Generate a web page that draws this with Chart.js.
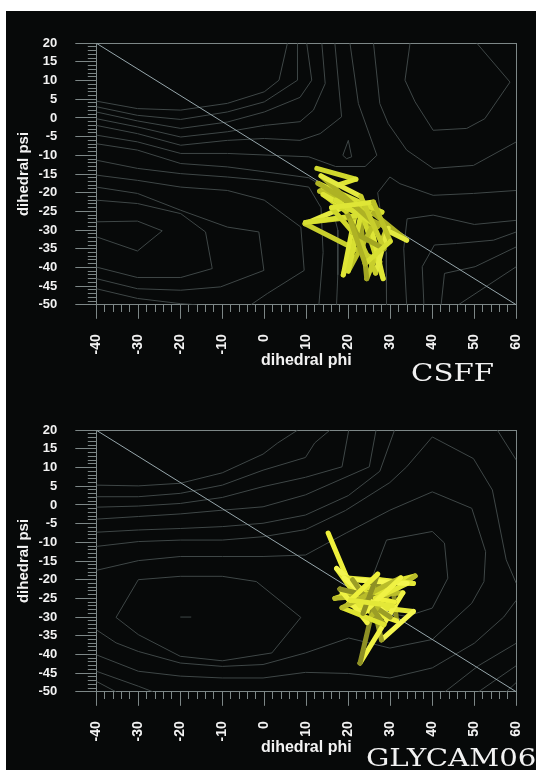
<!DOCTYPE html>
<html>
<head>
<meta charset="utf-8">
<script src="https://cdn.jsdelivr.net/npm/chart.js@4.4.1/dist/chart.umd.min.js"></script>
<style>
  html, body { margin: 0; padding: 0; background: #ffffff; }
  body { width: 536px; height: 770px; position: relative; overflow: hidden; }
  #sheet { position: absolute; left: 6px; top: 11px; right: 0; bottom: 0; background: #070909; }
  .panel { position: absolute; left: 0; width: 536px; height: 383px; }
  #panelTop { top: 0; }
  #panelBottom { top: 387px; }
  .tag { position: absolute; font-family: "DejaVu Serif", "Liberation Serif", serif; font-size: 25px;
         line-height: 25px; color: #f2f2f2; letter-spacing: 0; white-space: nowrap;
         transform: scaleX(1.17); transform-origin: left top; }
</style>
</head>
<body>
<div id="sheet"></div>
<div class="panel" id="panelTop"><canvas id="chartCsff" width="536" height="383"></canvas></div>
<div class="panel" id="panelBottom"><canvas id="chartGlycam" width="536" height="383"></canvas></div>
<div class="tag" style="left:411px; top:360px;">CSFF</div>
<div class="tag" style="left:366px; top:745px;">GLYCAM06</div>
<script>
// ---- axis ranges and labelled tick values ----
const PHI_RANGE = [-40, 60];
const PSI_RANGE = [-50, 20];
const PHI_LABELS = [-40, -30, -20, -10, 0, 10, 20, 30, 40, 50, 60];
const PSI_LABELS = [20, 15, 10, 5, 0, -5, -10, -15, -20, -25, -30, -35, -40, -45, -50];

// reference diagonal
const DIAG_PHI = [-40, 60];
const DIAG_PSI = [20, -50];

// ---- CSFF trajectory (phi, psi in degrees) ----
const CSFF_PHI = [12.5, 21.8, 13.2, 28.0, 12.8, 20.8, 9.7, 27.5, 24.0, 18.8, 21.5, 9.8, 26.0, 33.9,
                  29.0, 24.4, 22.5, 28.3, 25.5, 20.0, 23.0, 29.5, 26.5, 22.0, 19.5, 14.0, 24.5, 17.0,
                  27.0, 13.5, 23.0, 28.5, 21.0, 16.0, 26.0, 30.0, 24.0, 20.5];
const CSFF_PSI = [-13.5, -16.4, -19.6, -25.2, -17.5, -23.0, -28.3, -38.5, -24.5, -42.0, -26.5, -28.0,
                  -25.5, -32.7, -30.0, -43.0, -23.0, -43.0, -29.5, -41.0, -26.0, -29.5, -41.5, -31.0,
                  -25.0, -20.5, -27.0, -22.0, -29.0, -15.5, -21.0, -35.0, -30.5, -24.0, -22.5, -33.0,
                  -39.0, -27.5];

// ---- GLYCAM06 trajectory ----
const GLYCAM_PHI = [15.2, 21.0, 17.2, 28.0, 18.5, 35.9, 24.0, 30.5, 31.5, 20.0, 35.5, 27.9, 25.0,
                    16.8, 33.0, 22.8, 27.5, 35.5, 19.0, 30.0, 22.0, 29.5, 24.5, 18.0, 31.0, 26.5,
                    34.0, 21.0, 28.5, 18.5, 32.5, 23.5, 27.0, 20.5, 30.5];
const GLYCAM_PSI = [-7.5, -23.0, -17.0, -27.0, -24.0, -19.0, -28.5, -20.5, -31.0, -26.5, -28.5, -36.1,
                    -22.0, -25.0, -23.5, -42.3, -20.0, -21.0, -19.5, -30.0, -24.0, -23.0, -31.5, -22.5,
                    -26.0, -25.0, -21.0, -20.0, -32.0, -27.5, -19.5, -29.0, -18.5, -25.5, -27.0];

// ---- free-energy contour polylines, CSFF ([phi, psi] vertices) ----
const CSFF_CONTOURS = [
  [[-40,4.5],[-30.2,2.5],[-19.9,2.1],[-8.8,3.9],[0,7.0],[3.5,10.1],[5.5,20]],
  [[-40,3.0],[-30.2,0.7],[-19.9,-0.4],[-8.8,1.6],[0,4.3],[7.9,10.1],[7.9,20]],
  [[-40,1.6],[-30.2,-0.8],[-19.9,-2.8],[-8.8,-1.1],[0,1.6],[8.5,5.5],[11.3,10.1],[10.1,20]],
  [[-40,-0.2],[-30.2,-2.4],[-19.9,-5.1],[-8.8,-3.7],[0,-2.0],[8.5,-1.0],[11.7,2.1],[14.5,9.2],[13.7,20]],
  [[-40,-2.0],[-30.2,-4.2],[-19.9,-7.3],[-8.8,-6.0],[0,-5.5],[8.5,-6.0],[13.3,-4.2],[18.4,0.3],[16.8,20]],
  [[-40,-4.6],[-30.2,-6.4],[-19.9,-9.5],[-8.8,-9.5],[10.6,-10.4],[17,-13],[24,-13],[26.8,-10.0],[22.4,3.85],[20.4,20]],
  [[20.0,-6.0],[20.8,-10.4],[19.6,-10.9],[18.7,-10.0],[20.0,-6.0]],
  [[26,20],[27.5,3.85],[29.5,-1.5],[33.9,-8.6],[40.2,-13.5],[49.8,-12.7],[60,-6.4]],
  [[34.7,20],[33.5,10.1],[35.9,4.3],[40.2,-3.3],[48.2,-2.8],[52.5,-0.2],[58.5,9.6],[50.6,20]],
  [[-40,-6.9],[-30.2,-8.6],[-19.9,-12.2],[-8.8,-13.1],[0,-14.4],[10.6,-16.0],[15,-19],[17.5,-30],[17.5,-42],[17.2,-50]],
  [[-40,-11.3],[-30.2,-13.5],[-19.9,-14.9],[-8.8,-15.8],[0,-16.7],[10.6,-18.5],[13.5,-24],[14,-36],[13,-50]],
  [[-40,-15.3],[-30.2,-16.7],[-19.9,-18.5],[-8.8,-19.4],[0,-22.0],[8.7,-29.2],[9.5,-40.8],[0.7,-47.0],[-3.2,-50]],
  [[-40,-18.5],[-30.2,-20.2],[-19.9,-24.7],[-8.8,-29.2],[-1.3,-30.5],[-0.1,-40.8],[-10.4,-45.2],[-19.9,-46.1],[-30.2,-45.7],[-40,-43.0]],
  [[-40,-22.0],[-30.2,-22.9],[-19.9,-25.6],[-14,-30.5],[-12.4,-40.3],[-19.9,-42.7],[-30.2,-42.7],[-40,-39.9]],
  [[-40,-27.8],[-30.2,-27.6],[-24.3,-30.2],[-30.2,-35.6],[-40,-31.8]],
  [[-40,-45.7],[-30.2,-48.3],[-19.9,-49.7],[-16,-50]],
  [[60,-19.4],[49.8,-20.2],[40.2,-20.7],[32.3,-17.6],[29.9,-15.8],[27,-20],[29,-36],[29.1,-50]],
  [[60,-27.4],[50,-28.5],[40.2,-26],[34,-27],[33.2,-35],[33.9,-50]],
  [[60,-30.5],[54.6,-32.7],[45.8,-33.6],[40.5,-34],[37.6,-39.8],[38,-50]],
  [[60,-34.5],[50.2,-39.8],[42.9,-41.6],[42.1,-50]],
  [[60,-39.8],[46.2,-50]]
];

// ---- free-energy contour polylines, GLYCAM06 ----
const GLYCAM_CONTOURS = [
  [[-40,5.3],[-30,5.1],[-20,5.8],[-10,8.6],[-0.3,13.6],[3.2,16.6],[7.9,20]],
  [[-40,2.2],[-30,2.2],[-20,3.1],[-10,5.3],[-0.3,9.3],[9.8,12.7],[12,16.6],[15.6,20]],
  [[-40,-0.6],[-30,-0.3],[-20,0.4],[-10,2.0],[-0.3,4.9],[9.8,7.4],[18.5,10.2],[20.1,20]],
  [[-40,-3.8],[-30,-3.1],[-20,-2.4],[-10,-1.4],[-0.3,-0.5],[9.8,2.7],[25,10.2],[26.6,20]],
  [[-40,-7.3],[-30,-6.7],[-20,-6.3],[-10,-5.8],[-0.3,-4.9],[9.8,-2.7],[20,2.5],[27.5,9],[31,20]],
  [[-40,-11.1],[-30,-9.8],[-20,-9.4],[-10,-9.4],[-0.3,-8.5],[9.8,-6.6],[19.3,-1.5],[29.9,6],[33.9,10.2],
   [40,18.2],[49.8,12.4],[54.3,4],[57.6,-14.7],[60,-21]],
  [[-40,-17.5],[-30,-14.9],[-20,-13.8],[-10,-13.8],[-0.3,-13.8],[9.8,-13.4],[19.5,-7.5],[29.9,-1.4],[40,3.5],
   [49.4,-0.9],[52.7,-12.5],[52.3,-20.5],[49.4,-26.3],[40,-36.0],[29.9,-38.3],[20.1,-35.6],[9.8,-39.6],
   [-0.3,-42.7],[-10,-43.2],[-20,-42.3],[-30,-39.2],[-35.3,-36.9],[-40,-33.4]],
  [[-30,-20],[-20,-19.1],[-10,-19.1],[-1.9,-20.5],[8.7,-30.1],[1.8,-39.6],[-10,-41.7],[-20,-40.5],[-30,-34.7],[-35.3,-30.1],[-30,-20]],
  [[-20,-30],[-17.4,-30]],
  [[29.1,-9.4],[40,-7.1],[42.9,-10.2],[43.7,-19.6],[40,-27.6],[33.9,-29.8],[29.1,-28.9],[25.5,-20],[29.1,-9.4]],
  [[-40,-40.1],[-30,-44.5],[-20,-45.8],[-10,-46.3],[-0.3,-46.3],[9.8,-44.8],[20.1,-45.1],[29.9,-46.3],[40,-43.6],[50,-37],[57,-30],[60,-25.5]],
  [[-40,-44.5],[-30,-48.5],[-26.5,-50]],
  [[-40,-47.2],[-35.3,-50]],
  [[43,-50],[51,-43],[60,-37]],
  [[51,-50],[60,-43]],
  [[57.6,-50],[60,-47.5]],
  [[55.5,20],[60,12]]
];

// ---- styling ----
const INK = '#f2f2f2';
const AXIS_GREY = '#7d8787';
const CONTOUR_GREY = '#3f4747';
const DIAG_GREY = '#97a7ac';
const CSFF_SHADES = ['#d0d82c', '#dfe636', '#bcc226', '#d8e032', '#aeb224', '#e4ea40', '#c8ce2c', '#a2a622'];
const GLYCAM_SHADES = ['#eef03c', '#e4e838', '#f4f650', '#9c9e26', '#dfe432', '#b9bc2a', '#f0f244', '#8e9024'];
const SANS = '"Liberation Sans", Arial, Helvetica, sans-serif';

function toPoints(phi, psi) {
  return phi.map((p, i) => ({ x: p, y: psi[i] }));
}

function buildPanel(canvasId, contours, phi, psi, shades) {
  const datasets = [];
  datasets.push({
    data: toPoints(phi, psi),
    showLine: true,
    borderWidth: 5,
    borderColor: shades[0],
    borderCapStyle: 'round',
    borderJoinStyle: 'round',
    segment: { borderColor: c => shades[c.p0DataIndex % shades.length] },
    pointRadius: 0,
    pointHoverRadius: 0,
    order: 0
  });
  datasets.push({
    data: toPoints(DIAG_PHI, DIAG_PSI),
    showLine: true, borderWidth: 1, borderColor: DIAG_GREY,
    pointRadius: 0, pointHoverRadius: 0, order: 1
  });
  contours.forEach(line => {
    datasets.push({
      data: line.map(v => ({ x: v[0], y: v[1] })),
      showLine: true, borderWidth: 1, borderColor: CONTOUR_GREY,
      pointRadius: 0, pointHoverRadius: 0, order: 2
    });
  });

  return new Chart(document.getElementById(canvasId), {
    type: 'scatter',
    data: { datasets },
    options: {
      responsive: false,
      animation: false,
      events: [],
      layout: { padding: { left: 0, top: 43.2, right: 19.7, bottom: 0 } },
      plugins: { legend: { display: false }, tooltip: { enabled: false }, title: { display: false } },
      scales: {
        x: {
          type: 'linear', position: 'bottom', display: true,
          min: PHI_RANGE[0], max: PHI_RANGE[1],
          ticks: {
            stepSize: 2, maxTicksLimit: 1000, autoSkip: false,
            minRotation: 90, maxRotation: 90, padding: 15.5, color: INK,
            font: { family: SANS, weight: 'bold', size: 14 },
            callback: v => PHI_LABELS.includes(v) ? String(v) : ''
          },
          grid: {
            drawOnChartArea: false, tickLength: 14, tickColor: AXIS_GREY, tickWidth: 1,
            tickBorderDash: c => (c.tick && c.tick.value % 10 === 0) ? [] : [7, 40]
          },
          border: { display: true, color: AXIS_GREY, width: 1 },
          title: {
            display: true, text: 'dihedral phi', color: INK,
            font: { family: SANS, weight: 'bold', size: 16 },
            padding: { top: 0, bottom: 12.4 }
          },
          afterFit: s => { s.height = 78.2; s.paddingLeft = 0; s.paddingRight = 0; }
        },
        y: {
          type: 'linear', position: 'left', display: true,
          min: PSI_RANGE[0], max: PSI_RANGE[1],
          ticks: {
            stepSize: 1, maxTicksLimit: 1000, autoSkip: false, padding: 18, color: INK,
            font: { family: SANS, weight: 'bold', size: 13 },
            callback: v => PSI_LABELS.includes(v) ? String(v) : ''
          },
          grid: {
            drawOnChartArea: false, tickLength: 21, tickColor: AXIS_GREY, tickWidth: 1,
            tickBorderDash: c => (c.tick && c.tick.value % 5 === 0) ? [] : [0, 12.5, 8.5, 40]
          },
          border: { display: true, color: AXIS_GREY, width: 1 },
          title: {
            display: true, text: 'dihedral psi', color: INK,
            font: { family: SANS, weight: 'bold', size: 15 },
            padding: { top: 15, bottom: 0 }
          },
          afterFit: s => { s.width = 96.3; s.paddingTop = 0; s.paddingBottom = 0; }
        },
        xFrame: {
          type: 'linear', position: 'top', display: true,
          min: PHI_RANGE[0], max: PHI_RANGE[1],
          ticks: { display: false },
          grid: { display: false, drawTicks: false },
          border: { display: true, color: AXIS_GREY, width: 1 },
          afterFit: s => { s.height = 0; s.paddingLeft = 0; s.paddingRight = 0; }
        },
        yFrame: {
          type: 'linear', position: 'right', display: true,
          min: PSI_RANGE[0], max: PSI_RANGE[1],
          ticks: { display: false },
          grid: { display: false, drawTicks: false },
          border: { display: true, color: AXIS_GREY, width: 1 },
          afterFit: s => { s.width = 0; s.paddingTop = 0; s.paddingBottom = 0; }
        }
      }
    }
  });
}

buildPanel('chartCsff', CSFF_CONTOURS, CSFF_PHI, CSFF_PSI, CSFF_SHADES);
buildPanel('chartGlycam', GLYCAM_CONTOURS, GLYCAM_PHI, GLYCAM_PSI, GLYCAM_SHADES);
</script>
</body>
</html>
